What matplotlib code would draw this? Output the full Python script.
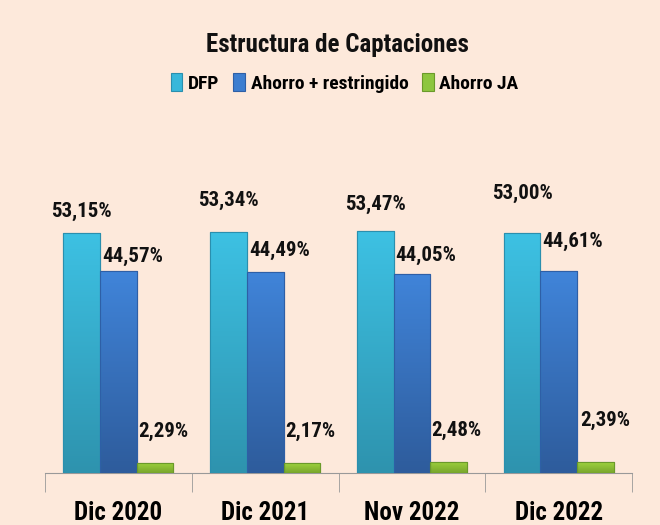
import matplotlib
matplotlib.use('Agg')
import matplotlib.pyplot as plt
from matplotlib.colors import LinearSegmentedColormap
import numpy as np

# Datos
periodos = ['Dic 2020', 'Dic 2021', 'Nov 2022', 'Dic 2022']
series = ['DFP', 'Ahorro + restringido', 'Ahorro JA']
dfp = [53.15, 53.34, 53.47, 53.00]
ahorro = [44.57, 44.49, 44.05, 44.61]
ahorro_ja = [2.29, 2.17, 2.48, 2.39]

colores = ['#38B7DA', '#3D7ED0', '#8DC63F']
# degradado (abajo, arriba) de cada serie
degradados = [('#2E93AE', '#3DC1E3'), ('#2E5C9C', '#4084D9'), ('#78A62C', '#9ED23E')]
bordes = ['#2A8FAE', '#2E5FA6', '#6A9A2A']
fondo = '#FDE9DB'

# desplazamiento de etiquetas (pixeles) como en el original
desp = [
    [(0, 12), (0, 22), (0, 17), (0, 30)],
    [(14, 5), (14, 12), (14, 9), (14, 20)],
    [(8, 22), (8, 22), (8, 22), (10, 32)],
]

plt.rcParams['font.family'] = ['Roboto Condensed', 'DejaVu Sans']
plt.rcParams['font.stretch'] = 'condensed'
plt.rcParams['font.weight'] = 'bold'

fig = plt.figure(figsize=(6.6, 5.25), dpi=100, facecolor=fondo)
ax = fig.add_axes([0.068, 0.099, 0.89, 0.672])
ax.set_facecolor(fondo)

x = np.arange(len(periodos))
ancho = 0.25
valores = [dfp, ahorro, ahorro_ja]
grad = np.linspace(0, 1, 100).reshape(-1, 1)
for i, vals in enumerate(valores):
    pos = x + (i - 1) * ancho
    barras = ax.bar(pos, vals, ancho, color=colores[i], edgecolor=bordes[i],
                    linewidth=0.8, label=series[i], zorder=3)
    cmap = LinearSegmentedColormap.from_list('g%d' % i, degradados[i])
    for j, b in enumerate(barras):
        v = vals[j]
        x0 = b.get_x()
        im = ax.imshow(grad, cmap=cmap, origin='lower', aspect='auto',
                       extent=(x0, x0 + b.get_width(), 0, v), zorder=3.5)
        im.set_clip_path(b)
        ax.bar(b.get_x() + b.get_width() / 2, v, ancho, fill=False,
               edgecolor=bordes[i], linewidth=0.8, zorder=4)
        ax.annotate(f'{v:.2f}%'.replace('.', ','),
                    (b.get_x() + b.get_width() / 2, v),
                    xytext=desp[i][j], textcoords='offset pixels',
                    ha='center', va='bottom', fontsize=15, fontweight='bold',
                    color='#111111')

ax.set_xlim(-0.5, 3.5)
ax.set_ylim(0, 78)
ax.set_yticks([])
for s in ['top', 'right', 'left']:
    ax.spines[s].set_visible(False)
ax.spines['bottom'].set_color('#999999')
ax.set_xticks(x)
ax.set_xticklabels(periodos, fontsize=18, fontweight='bold')
ax.tick_params(axis='x', which='major', length=0, pad=20)
ax.set_xticks(np.arange(-0.5, 4, 1), minor=True)
ax.tick_params(axis='x', which='minor', length=14, color='#999999')

fig.text(0.512, 0.915, 'Estructura de Captaciones', ha='center', va='center',
         fontsize=18, fontweight='bold', color='#111111')
fig.legend(loc='center', bbox_to_anchor=(0.522, 0.842), ncol=3, frameon=False,
           fontsize=14, handlelength=0.6, handleheight=1.0, handletextpad=0.3,
           columnspacing=0.7)

plt.savefig('out.png', dpi=100, facecolor=fondo)
plt.close()
